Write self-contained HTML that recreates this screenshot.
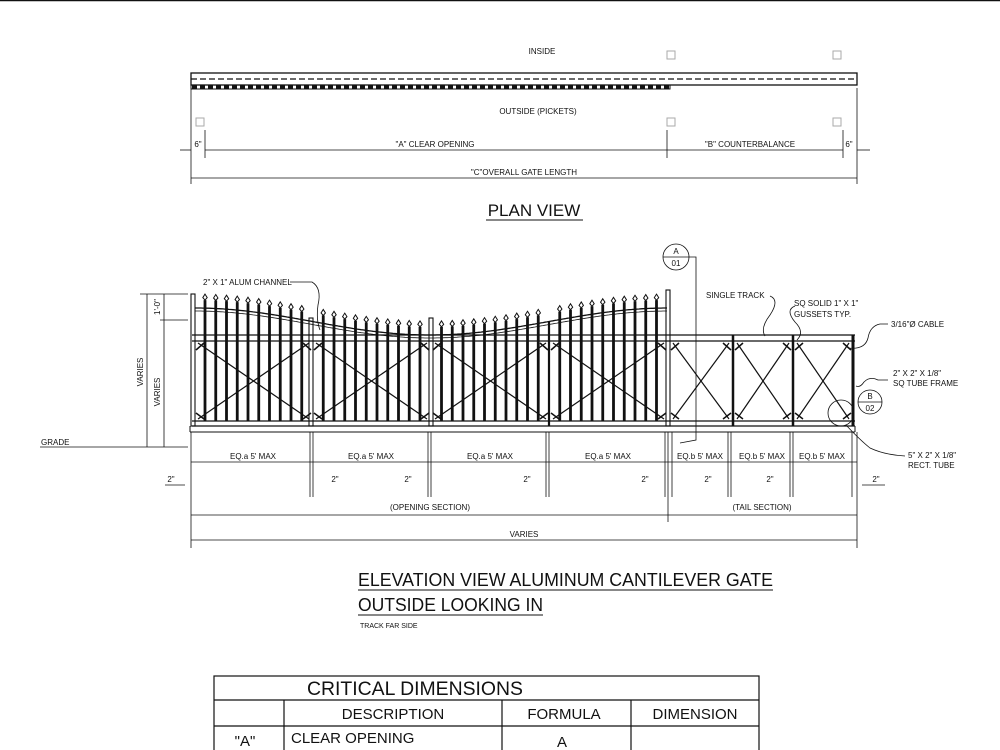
<!DOCTYPE html>
<html><head><meta charset="utf-8"><style>
html,body{margin:0;padding:0;background:#fff;}
svg{display:block;}
text{font-family:"Liberation Sans",sans-serif;fill:#111;}
</style></head><body>
<svg id="s" width="1000" height="750" viewBox="0 0 1000 750" xmlns="http://www.w3.org/2000/svg" stroke="#111" fill="none">
<line x1="0" y1="0.5" x2="1000" y2="0.5" stroke-width="1.5"/>
<!-- PLAN VIEW -->
<text x="542" y="54" font-size="8" stroke="none" text-anchor="middle">INSIDE</text>
<rect x="191" y="73" width="666" height="12" stroke-width="1.3"/>
<line x1="191" y1="79" x2="857" y2="79" stroke-dasharray="6,3" stroke-width="1.3"/>
<rect x="191" y="85" width="479" height="4" stroke-width="1"/>
<line x1="192" y1="87" x2="669" y2="87" stroke-dasharray="5,3" stroke-width="3"/>
<g stroke="#aaa" stroke-width="1">
<rect x="667" y="51" width="8" height="8"/><rect x="833" y="51" width="8" height="8"/>
<rect x="196" y="118" width="8" height="8"/><rect x="667" y="118" width="8" height="8"/><rect x="833" y="118" width="8" height="8"/>
</g>
<text x="538" y="114" font-size="8" stroke="none" text-anchor="middle">OUTSIDE (PICKETS)</text>
<g stroke-width="0.8">
<line x1="191" y1="88" x2="191" y2="184"/><line x1="857" y1="88" x2="857" y2="184"/>
<line x1="205" y1="130" x2="205" y2="158"/><line x1="667" y1="130" x2="667" y2="158"/><line x1="843" y1="130" x2="843" y2="158"/>
<line x1="205" y1="150" x2="667" y2="150"/><line x1="667" y1="150" x2="843" y2="150"/>
<line x1="180" y1="150" x2="191" y2="150"/><line x1="857" y1="150" x2="870" y2="150"/>
<line x1="191" y1="178" x2="857" y2="178"/>
</g>
<text x="198" y="147" font-size="8" stroke="none" text-anchor="middle">6"</text>
<text x="849" y="147" font-size="8" stroke="none" text-anchor="middle">6"</text>
<text x="435" y="147" font-size="8" stroke="none" text-anchor="middle">"A" CLEAR OPENING</text>
<text x="750" y="147" font-size="8" stroke="none" text-anchor="middle">"B" COUNTERBALANCE</text>
<text x="524" y="175" font-size="8" stroke="none" text-anchor="middle">"C"OVERALL GATE LENGTH</text>
<text x="534" y="216" font-size="17" stroke="none" text-anchor="middle">PLAN VIEW</text>
<line x1="486" y1="220" x2="583" y2="220" stroke-width="1"/>
<g id="gate" stroke-width="1.3"></g>
<g stroke-width="0.8">
<line x1="140" y1="294" x2="188" y2="294"/><line x1="160" y1="320" x2="188" y2="320"/>
<line x1="40" y1="447" x2="188" y2="447"/>
<line x1="147" y1="294" x2="147" y2="447"/><line x1="164" y1="294" x2="164" y2="447"/>
</g>
<text x="0" y="0" font-size="8" stroke="none" text-anchor="middle" transform="translate(143,372) rotate(-90)">VARIES</text>
<text x="0" y="0" font-size="8" stroke="none" text-anchor="middle" transform="translate(160,392) rotate(-90)">VARIES</text>
<text x="0" y="0" font-size="8" stroke="none" text-anchor="middle" transform="translate(160,307) rotate(-90)">1'-0"</text>
<text x="41" y="445" font-size="8" stroke="none">GRADE</text>
<g stroke-width="0.8" id="dims">
<line x1="191" y1="432" x2="191" y2="548"/><line x1="857" y1="432" x2="857" y2="548"/>
<line x1="668" y1="432" x2="668" y2="522"/>
<line x1="191" y1="462" x2="857" y2="462"/>
<line x1="191" y1="515" x2="857" y2="515"/>
<line x1="191" y1="540" x2="857" y2="540"/>
<line x1="165" y1="485" x2="185" y2="485"/><line x1="862" y1="485" x2="885" y2="485"/>
</g>
<g font-size="8" stroke="none" text-anchor="middle">
<text x="253" y="459">EQ.a 5' MAX</text><text x="371" y="459">EQ.a 5' MAX</text>
<text x="490" y="459">EQ.a 5' MAX</text><text x="608" y="459">EQ.a 5' MAX</text>
<text x="700" y="459">EQ.b 5' MAX</text><text x="762" y="459">EQ.b 5' MAX</text><text x="822" y="459">EQ.b 5' MAX</text>
<text x="171" y="482">2"</text><text x="335" y="482">2"</text><text x="408" y="482">2"</text>
<text x="527" y="482">2"</text><text x="645" y="482">2"</text><text x="708" y="482">2"</text>
<text x="770" y="482">2"</text><text x="876" y="482">2"</text>
<text x="430" y="510">(OPENING SECTION)</text><text x="762" y="510">(TAIL SECTION)</text>
<text x="524" y="537">VARIES</text>
</g>
<g stroke-width="0.8">
<path d="M290,282 L312,282 Q322,288 318,305 Q316,320 320,330"/>
<circle cx="676" cy="257" r="13"/><line x1="663" y1="257" x2="689" y2="257"/>
<path d="M689,257 L696,257 L696,440 L680,443"/>
<path d="M770,296 Q780,300 770,315 Q760,328 765,336"/>
<path d="M795,306 Q785,310 795,322 Q805,332 797,340"/>
<path d="M888,324 L880,324 Q870,326 868,338 Q865,350 848,348"/>
<path d="M888,380 L878,380 Q870,376 864,382 Q860,388 856,386"/>
<circle cx="870" cy="402" r="12"/><line x1="858" y1="402" x2="882" y2="402"/>
<circle cx="841" cy="413" r="13"/>
<path d="M846,425 Q860,440 870,448 Q885,455 905,456"/>
</g>
<g font-size="8" stroke="none">
<text x="203" y="285">2" X 1" ALUM CHANNEL</text>
<text x="676" y="254" text-anchor="middle">A</text><text x="676" y="266" text-anchor="middle">01</text>
<text x="706" y="298">SINGLE TRACK</text>
<text x="794" y="306">SQ SOLID 1" X 1"</text><text x="794" y="317">GUSSETS TYP.</text>
<text x="891" y="327">3/16"Ø CABLE</text>
<text x="893" y="376">2" X 2" X 1/8"</text><text x="893" y="386">SQ TUBE FRAME</text>
<text x="870" y="399" text-anchor="middle">B</text><text x="870" y="411" text-anchor="middle">02</text>
<text x="908" y="458">5" X 2" X 1/8"</text><text x="908" y="468">RECT. TUBE</text>
</g>
<text x="358" y="586" font-size="18" stroke="none" textLength="415" lengthAdjust="spacingAndGlyphs">ELEVATION VIEW ALUMINUM CANTILEVER GATE</text>
<line x1="358" y1="590" x2="773" y2="590" stroke-width="1"/>
<text x="358" y="611" font-size="18" stroke="none" textLength="185" lengthAdjust="spacingAndGlyphs">OUTSIDE LOOKING IN</text>
<line x1="358" y1="615" x2="543" y2="615" stroke-width="1"/>
<text x="360" y="628" font-size="7" stroke="none">TRACK FAR SIDE</text>
<g stroke-width="1.2">
<rect x="214" y="676" width="545" height="90"/>
<line x1="214" y1="700" x2="759" y2="700"/><line x1="214" y1="726" x2="759" y2="726"/>
<line x1="284" y1="700" x2="284" y2="750"/><line x1="502" y1="700" x2="502" y2="750"/><line x1="631" y1="700" x2="631" y2="750"/>
</g>
<g stroke="none" font-size="15">
<text x="307" y="695" font-size="19" textLength="216" lengthAdjust="spacingAndGlyphs">CRITICAL DIMENSIONS</text>
<text x="393" y="719" text-anchor="middle">DESCRIPTION</text>
<text x="564" y="719" text-anchor="middle">FORMULA</text>
<text x="695" y="719" text-anchor="middle">DIMENSION</text>
<text x="245" y="746" text-anchor="middle">"A"</text>
<text x="291" y="743">CLEAR OPENING</text>
<text x="562" y="747" text-anchor="middle">A</text>
</g>
</svg>
<script>
(function(){
var g=document.getElementById('gate'),d=document.getElementById('dims'),h='';
function L(a,b,c,e,w){h+='<line x1="'+a+'" y1="'+b+'" x2="'+c+'" y2="'+e+'"'+(w?' stroke-width="'+w+'"':'')+'/>';}
function rail(x){ if(x<=430){var t=(x-195)/(430-195);return 308+27*(1-Math.cos(Math.PI*t))/2;} var t=(x-430)/(668-430);return 335-27*(1-Math.cos(Math.PI*t))/2;}
L(192,335,855,335);L(192,341,855,341);L(192,421,855,421);L(192,426,855,426);L(190,432,855,432,1);
L(190,426,190,432,1);L(855,426,855,432,1);
var p='M195,'+rail(195);for(var x=197;x<=668;x+=2)p+=' L'+x+','+rail(x).toFixed(1);
h+='<path d="'+p+'"/>';
p='M195,'+(rail(195)+3);for(var x=197;x<=668;x+=2)p+=' L'+x+','+(rail(x)+3).toFixed(1);
h+='<path d="'+p+'" stroke-width="0.8"/>';
[[193,294],[311,318],[431,318],[668,290]].forEach(function(q){h+='<rect x="'+(q[0]-2)+'" y="'+q[1]+'" width="4" height="'+(426-q[1])+'" stroke-width="1.1"/>';});
L(549,322,549,426,2.2);L(853,335,853,426,3);L(733,335,733,426,2.5);L(793,335,793,426,2.5);
for(var x=205;x<664;x+=10.75){ if(Math.abs(x-311)<4||Math.abs(x-431)<4||Math.abs(x-549)<4)continue;
 var top=rail(x)-12; L(x,top+4,x,421,2.8); h+='<path d="M'+x+','+(top-2)+' l2.2,3.5 l-2.2,2.5 l-2.2,-2.5z" stroke-width="1"/>';}
[[196,311],[314,429],[433,548],[551,666],[671,731],[735,791],[795,851]].forEach(function(s){
 L(s[0]+2,343,s[1]-2,419,1.2);L(s[1]-2,343,s[0]+2,419,1.2);
 L(s[0],350,s[0]+8,343,1.5);L(s[1],350,s[1]-8,343,1.5);L(s[0],413,s[0]+8,419,1.5);L(s[1],413,s[1]-8,419,1.5);});
g.innerHTML=h;
h='';
[310,313,428,431,546,549,665,672,728,731,790,793,852].forEach(function(x){L(x,432,x,497);});
d.insertAdjacentHTML('beforeend',h);
})();
</script>
</body></html>
